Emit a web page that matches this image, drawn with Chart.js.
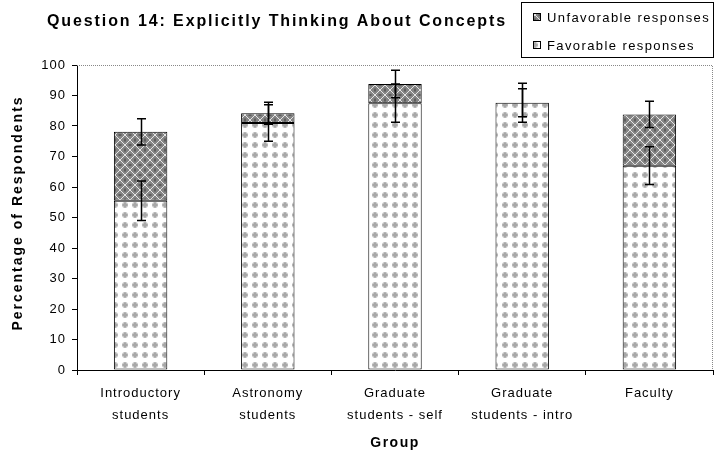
<!DOCTYPE html>
<html>
<head>
<meta charset="utf-8">
<script src="https://cdn.jsdelivr.net/npm/chart.js@4"></script>
<style>
  body { margin: 0; background: #fff; }
  canvas { display: block; }
</style>
</head>
<body>
<canvas id="q14Chart" width="716" height="455"></canvas>
<script>
// chart data
const categories = [["Introductory", "students"], ["Astronomy", "students"], ["Graduate", "students - self"], ["Graduate", "students - intro"], "Faculty"];
const favorable = [55.5, 81, 87.5, 87.6, 67];
const unfavorable = [22.6, 3.2, 6.3, 0, 16.8];
const favorableErr = [6.5, 6, 6.3, 6.4, 6.2];
const totalErr = [4.3, 3.6, 4.5, 4.6, 4.3];
const yTicks = [0, 10, 20, 30, 40, 50, 60, 70, 80, 90, 100];

const FONT = '"Liberation Sans", Arial, sans-serif';

// fill patterns like the old excel ones
function makeFavPattern() {
  const c = document.createElement("canvas");
  c.width = 10; c.height = 10;
  const g = c.getContext("2d");
  g.fillStyle = "#fff";
  g.fillRect(0, 0, 10, 10);
  g.fillStyle = "#c4c4c4";
  g.beginPath(); g.arc(5, 5, 3, 0, Math.PI * 2); g.fill();
  g.fillStyle = "#a8a8a8";
  g.fillRect(4, 2.5, 2, 5);
  g.fillRect(2.5, 4, 5, 2);
  return g.createPattern(c, "repeat");
}
function makeUnfavPattern() {
  const c = document.createElement("canvas");
  c.width = 10; c.height = 10;
  const g = c.getContext("2d");
  g.fillStyle = "#858585";
  g.fillRect(0, 0, 10, 10);
  g.strokeStyle = "#e4e4e4";
  g.lineWidth = 1;
  g.beginPath();
  g.moveTo(0, 0); g.lineTo(10, 10);
  g.moveTo(10, 0); g.lineTo(0, 10);
  g.stroke();
  g.fillStyle = "#5e5e5e";
  g.fillRect(0, 4, 1.5, 2); g.fillRect(8.5, 4, 1.5, 2);
  g.fillRect(4, 0, 2, 1.5); g.fillRect(4, 8.5, 2, 1.5);
  return g.createPattern(c, "repeat");
}
const favPattern = makeFavPattern();
const unfavPattern = makeUnfavPattern();

// error bars, title, axis titles, legend and the dotted frame
const extrasPlugin = {
  id: "extras",
  beforeDraw(chart) {
    chart.ctx.letterSpacing = "1px";
  },
  afterDatasetsDraw(chart) {
    const ctx = chart.ctx;
    const x = chart.scales.x, y = chart.scales.y;
    const area = chart.chartArea;
    ctx.save();
    // dotted frame top + right
    ctx.strokeStyle = "#888";
    ctx.lineWidth = 1;
    ctx.setLineDash([1, 1]);
    ctx.beginPath();
    ctx.moveTo(area.left, area.top + 0.5);
    ctx.lineTo(area.right - 0.5, area.top + 0.5);
    ctx.lineTo(area.right - 0.5, area.bottom);
    ctx.stroke();
    ctx.setLineDash([]);

    // error bars
    ctx.strokeStyle = "#000";
    ctx.lineWidth = 1.5;
    const cap = 4.5;
    categories.forEach((c, i) => {
      const cx = Math.round(x.getPixelForValue(i)) + 0.5;
      const tot = favorable[i] + unfavorable[i];
      [[favorable[i], favorableErr[i]], [tot, totalErr[i]]].forEach(([v, e]) => {
        const yt = y.getPixelForValue(v + e), yb = y.getPixelForValue(v - e);
        ctx.beginPath();
        ctx.moveTo(cx, yt); ctx.lineTo(cx, yb);
        ctx.moveTo(cx - cap, yt); ctx.lineTo(cx + cap, yt);
        ctx.moveTo(cx - cap, yb); ctx.lineTo(cx + cap, yb);
        ctx.stroke();
      });
    });
    ctx.restore();
  },
  afterDraw(chart) {
    const ctx = chart.ctx;
    const area = chart.chartArea;
    ctx.save();
    ctx.fillStyle = "#000";
    // title
    ctx.letterSpacing = "1.9px";
    ctx.font = "bold 16px " + FONT;
    ctx.textAlign = "center";
    ctx.textBaseline = "middle";
    ctx.fillText("Question 14: Explicitly Thinking About Concepts", 277, 22);
    // x title
    ctx.letterSpacing = "1.5px";
    ctx.font = "bold 14px " + FONT;
    ctx.fillText("Group", (area.left + area.right) / 2, 443);
    // y title
    ctx.letterSpacing = "2px";
    ctx.save();
    ctx.translate(18, 213);
    ctx.rotate(-Math.PI / 2);
    ctx.fillText("Percentage of Respondents", 0, 0);
    ctx.restore();

    // legend box
    ctx.letterSpacing = "1.4px";
    ctx.strokeStyle = "#000";
    ctx.lineWidth = 1;
    ctx.strokeRect(521.5, 2.5, 192, 55);
    ctx.font = "13px " + FONT;
    ctx.textAlign = "left";
    const items = [["Unfavorable responses", unfavPattern, 17], ["Favorable responses", favPattern, 45]];
    items.forEach(([label, pat, ly]) => {
      ctx.fillStyle = pat;
      ctx.fillRect(533, ly - 4, 8, 8);
      ctx.strokeRect(533.5, ly - 3.5, 7, 7);
      ctx.fillStyle = "#000";
      ctx.fillText(label, 547, ly + 1);
    });
    ctx.restore();
  }
};

const ctx = document.getElementById("q14Chart").getContext("2d");
const chart = new Chart(ctx, {
  type: "bar",
  data: {
    labels: categories,
    datasets: [
      {
        label: "Favorable responses",
        data: favorable,
        backgroundColor: favPattern,
        borderColor: "#000",
        borderWidth: 1,
        borderSkipped: false,
        barPercentage: 0.42,
        categoryPercentage: 1
      },
      {
        label: "Unfavorable responses",
        data: unfavorable,
        backgroundColor: unfavPattern,
        borderColor: "#000",
        borderWidth: 1,
        borderSkipped: false,
        barPercentage: 0.42,
        categoryPercentage: 1
      }
    ]
  },
  options: {
    responsive: false,
    animation: false,
    layout: { padding: { top: 65, right: 3, left: 0, bottom: 0 } },
    plugins: {
      legend: { display: false },
      title: { display: false },
      tooltip: { enabled: false }
    },
    scales: {
      x: {
        stacked: true,
        grid: { drawOnChartArea: false, drawTicks: true, tickLength: 5, color: "#000", offset: true },
        border: { color: "#000", width: 1 },
        ticks: { color: "#000", font: { family: FONT, size: 13, lineHeight: 1.65 }, padding: 8, maxRotation: 0, autoSkip: false },
        afterFit(s) { s.height = 85; }
      },
      y: {
        stacked: true,
        min: 0,
        max: 100,
        afterBuildTicks(s) { s.ticks = yTicks.map(v => ({ value: v })); },
        grid: { drawOnChartArea: false, drawTicks: true, tickLength: 5, color: "#000" },
        border: { color: "#000", width: 1 },
        ticks: { color: "#000", font: { family: FONT, size: 13 }, padding: 6 },
        afterFit(s) { s.width = 77; }
      }
    }
  },
  plugins: [extrasPlugin]
});
</script>
</body>
</html>
